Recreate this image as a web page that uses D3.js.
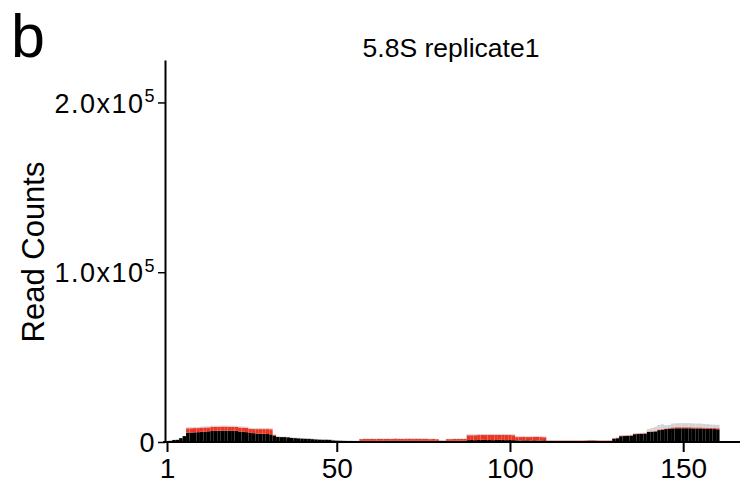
<!DOCTYPE html>
<html><head><meta charset="utf-8">
<script src="https://cdn.jsdelivr.net/npm/d3@7"></script>
<style>body{margin:0;background:#fff}svg{display:block}text{font-family:"Liberation Sans",Arial,Helvetica,sans-serif;fill:#000}</style>
</head><body><svg id="c" width="744" height="483"></svg>
<script>
// Data: read counts per nucleotide position (1..162), three stacked layers
const positions = d3.range(1, 163);
const blackCounts = [
 600,700,1200,1300,2300,3500,5500,5600,5700,5800,
 6000,6100,6300,6500,6600,6600,6700,6700,6700,6600,
 6600,6200,6000,5800,5400,5200,5000,4900,4800,4700,
 4500,3600,3000,2900,2900,2800,2400,2300,2200,2100,
 2000,1900,1700,1600,1500,1400,1400,1300,1000,900,
 800,700,600,600,500,500,
 700,750,700,800,700,750,700,800,750,700,800,750,700,700,800,750,700,800,700,750,700,700,650,
 500,500,
 700,700,750,700,800,800,
 1100,1200,1100,1200,1300,1200,1200,1100,1200,1300,1200,1100,1200,1100,
 1000,900,1000,1000,900,1000,900,900,1000,
 600,600,550,600,600,550,600,600,550,600,600,650,700,700,650,600,600,550,600,
 2000,2200,3400,3500,3600,3700,4600,4700,4800,4900,
 5900,6000,6200,7000,7200,7600,7800,
 8000,8100,8100,8100,8100,8100,8000,8000,8000,7900,7800,7700,7600,7500,
 600,0
];
const redCounts = [
 0,0,0,0,0,0,2600,2500,2500,2400,
 2500,2500,2300,2500,2400,2400,2400,2400,2300,2400,
 2300,2400,2500,2600,2300,2400,2600,2700,2800,2900,
 3000,600,0,0,0,0,0,0,0,0,
 0,0,0,0,0,0,0,0,0,0,
 0,0,0,0,0,0,
 1000,1050,1100,1000,1050,1100,1100,1000,1050,1100,1150,1100,1100,1200,1100,1150,1200,1100,1150,1100,1000,1050,1000,
 300,300,
 1000,1000,1050,1100,1000,1000,
 2900,2800,2900,2900,2800,2900,3000,3100,3000,2900,3000,3000,2900,2900,
 1900,2000,2000,1900,2000,2000,2100,2000,1800,
 250,250,300,250,250,300,250,250,300,250,250,300,400,400,300,250,250,300,250,
 200,200,300,300,300,300,300,300,300,300,
 300,300,300,400,400,400,400,
 600,600,600,600,600,600,600,600,600,600,600,600,600,600,
 0,0
];
const grayCounts = [
 100,100,100,100,100,100,600,600,600,600,
 600,600,600,600,600,600,600,600,600,600,
 600,600,600,600,600,600,600,600,600,600,
 600,300,300,300,300,300,300,300,300,300,
 300,300,300,300,300,300,300,300,300,300,
 300,300,300,300,300,300,
 200,200,200,200,200,200,200,200,200,200,200,200,200,200,200,200,200,200,200,200,200,200,200,
 200,200,
 200,200,200,200,200,200,
 600,600,600,600,600,600,600,600,600,600,600,600,600,600,
 500,500,500,500,500,500,500,500,500,
 150,150,150,150,150,150,150,150,150,150,150,150,150,150,150,150,150,150,150,
 300,300,300,300,300,300,300,300,300,300,
 1500,2000,2400,2600,2800,1900,1900,
 2300,2300,2400,2400,2400,2400,2300,2300,2300,2200,2100,2000,2000,2000,
 0,0
];
const xTicks = [1, 50, 100, 150];
const yTicks = [0, 100000, 200000];
const yTickLabels = [["0", ""], ["1.0x10", "5"], ["2.0x10", "5"]];
const title = "5.8S replicate1";
const yLabel = "Read Counts";
const panelLetter = "b";
const layerKeys = ["black", "red", "gray"];
const layerColors = ["#000000", "#ee3524", "#d3d3d3"];

const svg = d3.select("#c");
const x = d3.scaleLinear().domain([0.42, 166.4]).range([165, 740]);
const y = d3.scaleLinear().domain([0, 225000]).range([442, 60]);
const bw = x(2) - x(1);

const table = positions.map((p, i) => ({pos: p, black: blackCounts[i], red: redCounts[i], gray: grayCounts[i]}));
const stack = d3.stack().keys(layerKeys)(table);

svg.append("g").selectAll("g").data(stack).join("g")
  .attr("fill", (d, i) => layerColors[i])
  .selectAll("rect").data(d => d).join("rect")
  .attr("x", d => x(d.data.pos) - bw / 2)
  .attr("width", bw)
  .attr("y", d => y(d[1]))
  .attr("height", d => Math.max(0, y(d[0]) - y(d[1])));

// axes
const xAxis = svg.append("g").attr("transform", "translate(0,442)")
  .call(d3.axisBottom(x).tickValues(xTicks).tickSize(10).tickSizeOuter(0).tickPadding(6));
xAxis.select(".domain").attr("stroke-width", 2).attr("d", "M163,0H740");
xAxis.selectAll(".tick line").attr("stroke-width", 2);
xAxis.selectAll(".tick text").attr("font-size", 28).attr("font-family", '"Liberation Sans",Arial,sans-serif').attr("fill", "#000").attr("dy", "0.72em");

const yAxis = svg.append("g").attr("transform", "translate(165,0)")
  .call(d3.axisLeft(y).tickValues(yTicks).tickSize(7).tickSizeOuter(0).tickFormat(""));
yAxis.select(".domain").attr("stroke-width", 2);
yAxis.selectAll(".tick line").attr("stroke-width", 1.5);
yAxis.selectAll(".tick").each(function(d, i) {
  const t = d3.select(this).append("text").attr("x", -9).attr("dy", "0.36em")
    .attr("text-anchor", "end").attr("font-size", 27).style("letter-spacing", "1.5px");
  t.append("tspan").text(yTickLabels[i][0]);
  if (yTickLabels[i][1]) t.append("tspan").attr("dy", "-0.6em").attr("font-size", 18).text(yTickLabels[i][1]);
});

svg.append("text").attr("x", 451).attr("y", 57).attr("text-anchor", "middle").attr("font-size", 26.5).text(title);
svg.append("text").attr("transform", "translate(44,252) rotate(-90)").attr("text-anchor", "middle").attr("font-size", 31).text(yLabel);
svg.append("text").attr("x", 11).attr("y", 57).attr("font-size", 61).text(panelLetter);
</script></body></html>
